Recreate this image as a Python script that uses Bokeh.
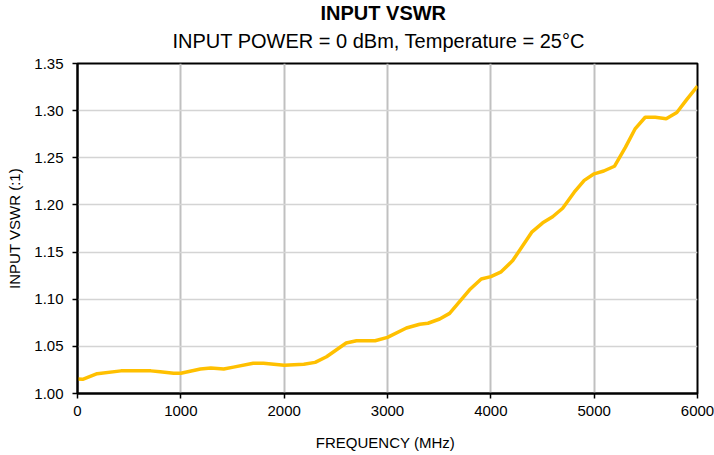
from bokeh.plotting import figure
from bokeh.models import Range1d, FixedTicker, Title, NumeralTickFormatter
from bokeh.embed import file_html
from bokeh.resources import INLINE

freq_mhz = [0, 50, 190, 420, 710, 800, 930, 1000, 1190, 1290, 1415, 1510, 1700, 1800,
            2000, 2190, 2300, 2410, 2600, 2700, 2880, 3000, 3183, 3312, 3392, 3505,
            3601, 3794, 3907, 4000, 4100, 4212, 4399, 4502, 4598, 4695, 4807, 4904,
            5000, 5093, 5196, 5302, 5398, 5494, 5591, 5697, 5800, 5897, 6000]
vswr = [1.0155, 1.015, 1.021, 1.024, 1.024, 1.023, 1.0215, 1.0215, 1.026, 1.027, 1.026,
        1.028, 1.032, 1.032, 1.030, 1.031, 1.033, 1.039, 1.0535, 1.056, 1.056, 1.0595,
        1.0695, 1.0735, 1.0745, 1.079, 1.085, 1.110, 1.1215, 1.124, 1.129, 1.141,
        1.1715, 1.181, 1.1875, 1.1965, 1.2135, 1.226, 1.233, 1.236, 1.241, 1.261,
        1.281, 1.293, 1.293, 1.2915, 1.298, 1.312, 1.326]
x_ticks = [0, 1000, 2000, 3000, 4000, 5000, 6000]
y_ticks = [1.00, 1.05, 1.10, 1.15, 1.20, 1.25, 1.30, 1.35]
title_main = "INPUT VSWR"
title_sub = "INPUT POWER = 0 dBm, Temperature = 25°C"

FONT = "Liberation Sans"

p = figure(width=714, height=455, output_backend="svg", toolbar_location=None,
           x_range=Range1d(0, 6000), y_range=Range1d(1.0, 1.35),
           min_border_left=77, min_border_right=17, min_border_top=63,
           min_border_bottom=62)

p.line(freq_mhz, vswr, line_color="#FFC000", line_width=3.5)

p.outline_line_color = "black"
p.outline_line_width = 2
p.background_fill_color = "white"
p.border_fill_color = "white"

p.xaxis.ticker = FixedTicker(ticks=x_ticks)
p.yaxis.ticker = FixedTicker(ticks=y_ticks)
p.yaxis.formatter = NumeralTickFormatter(format="0.00")
for ax in (p.xaxis, p.yaxis):
    ax.axis_line_color = "black"
    ax.axis_line_width = 2
    ax.major_tick_line_color = "black"
    ax.major_tick_line_width = 1.5
    ax.major_tick_out = 5
    ax.major_tick_in = 0
    ax.minor_tick_line_color = None
    ax.major_label_text_font = FONT
    ax.major_label_text_font_size = "15px"
    ax.major_label_text_color = "black"
    ax.axis_label_text_font = FONT
    ax.axis_label_text_font_size = "15px"
    ax.axis_label_text_font_style = "normal"
    ax.axis_label_text_color = "black"

p.xaxis.major_label_standoff = 7
p.yaxis.major_label_standoff = 9
p.xaxis.axis_label = "FREQUENCY  (MHz)"
p.xaxis.axis_label_standoff = 15
p.yaxis.axis_label = "INPUT VSWR (:1)"
p.yaxis.axis_label_standoff = 8

p.xgrid.grid_line_color = "#c0c0c0"
p.xgrid.grid_line_width = 2
p.ygrid.grid_line_color = "#d4d4d4"
p.ygrid.grid_line_width = 1.5

p.add_layout(Title(text=title_sub, text_font=FONT, text_font_size="20px",
                   text_font_style="normal", align="left", offset=95,
                   standoff=24, text_color="black"), "above")
p.add_layout(Title(text=title_main, text_font=FONT, text_font_size="20px",
                   text_font_style="bold", align="left", offset=243,
                   standoff=-17, text_color="black"), "above")

open("out.html", "w").write(file_html(p, INLINE))
